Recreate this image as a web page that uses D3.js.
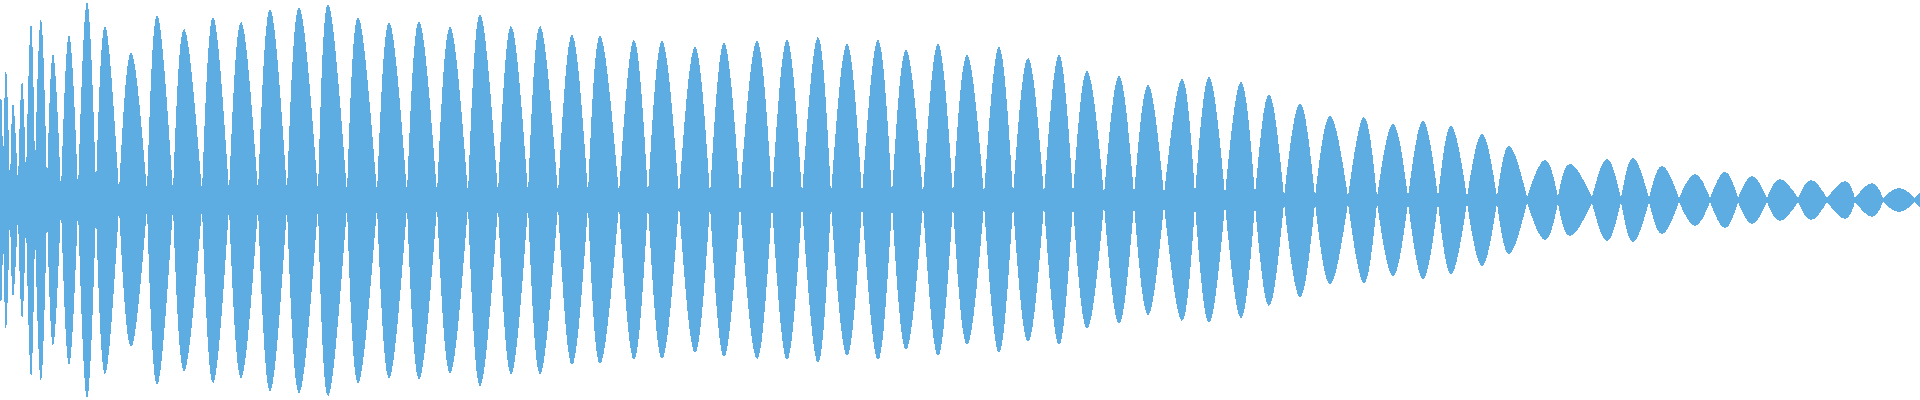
<!DOCTYPE html>
<html>
<head>
<meta charset="utf-8">
<script src="https://cdn.jsdelivr.net/npm/d3@7"></script>
<style>
  body { margin: 0; background: #fff; }
  svg { display: block; }
</style>
</head>
<body>
<svg id="wave"></svg>
<script>
// zero-crossing positions (sample index, 1 unit per column) and the envelope level there
var nodeTimes = [-4, 3, 10, 18, 26, 35, 47, 61, 78, 96, 119, 147, 173, 202, 229, 258, 287,
  318, 347, 377, 407, 437, 468, 498, 528, 558, 588, 619,
  648, 679, 710, 740, 772, 802, 831, 862, 892, 923, 953,
  984, 1013, 1044, 1073, 1104, 1134, 1164, 1195, 1225, 1255,
  1284, 1315, 1348, 1377, 1408, 1438, 1467, 1497, 1527, 1558, 1592,
  1621, 1649, 1679, 1710, 1738, 1767, 1798, 1827, 1855, 1883, 1915, 1940];
var nodeLevels = [0.10, 0.12, 0.05, 0.07, 0.10, 0.15, 0.065, 0.04, 0.045, 0.065, 0.04, 0.04, 0.04, 0.04, 0.04, 0.04, 0.04,
  0.035, 0.035, 0.035, 0.035, 0.03, 0.03, 0.03, 0.03, 0.03, 0.03, 0.03,
  0.025, 0.025, 0.025, 0.025, 0.025, 0.025, 0.025, 0.025, 0.025, 0.025, 0.025,
  0.025, 0.025, 0.025, 0.025, 0.025, 0.025, 0.025, 0.025, 0.025, 0.025,
  0.015, 0.015, 0.015, 0.015, 0.015, 0.015, 0.015, 0.015, 0.015, 0.015, 0.015,
  0.01, 0.01, 0.01, 0.01, 0.01, 0.01, 0.01, 0.01, 0.01, 0.01, 0.01, 0.01];

// peak of each lobe between two zero crossings
var peakTimes = [1, 6, 13, 22, 31, 41, 53, 69, 87, 105, 131, 157, 184, 213, 241, 270, 299,
  328, 358, 389, 419, 450, 480, 511, 540, 572, 600, 634,
  662, 695, 724, 757, 787, 818, 847, 878, 906, 938,
  967, 999, 1028, 1059, 1087, 1119, 1148, 1182, 1209, 1241, 1269,
  1300, 1330, 1364, 1393, 1423, 1451, 1482, 1509, 1545, 1570,
  1607, 1633, 1662, 1695, 1725, 1752, 1780, 1811, 1845, 1872, 1899, 1928];
var peakLevels = [0.515, 0.65, 0.485, 0.595, 0.885, 0.905, 0.73, 0.825, 0.99, 0.87, 0.735, 0.925, 0.855, 0.915, 0.89, 0.955, 0.965,
  0.98, 0.915, 0.89, 0.895, 0.865, 0.93, 0.87, 0.87, 0.825, 0.82, 0.80,
  0.795, 0.765, 0.785, 0.795, 0.80, 0.815, 0.78, 0.80, 0.75, 0.78,
  0.725, 0.765, 0.71, 0.725, 0.645, 0.62, 0.575, 0.605, 0.615, 0.59, 0.53,
  0.485, 0.42, 0.415, 0.38, 0.395, 0.37, 0.33, 0.27, 0.20, 0.18,
  0.205, 0.21, 0.17, 0.13, 0.14, 0.12, 0.105, 0.10, 0.095, 0.085, 0.06, 0.06];

var width = 1920, height = 400;
var color = "#5dade2";

var svg = d3.select("#wave")
  .attr("width", width)
  .attr("height", height);

var x = d3.scaleLinear().domain([0, 1920]).range([0, width]);
var y = d3.scaleLinear().domain([-1, 1]).range([height, 0]);

var lobes = peakTimes.map(function(t, i) {
  return [
    { t: nodeTimes[i], a: nodeLevels[i] },
    { t: t, a: peakLevels[i] },
    { t: nodeTimes[i + 1], a: nodeLevels[i + 1] }
  ];
});

var area = d3.area()
  .x(function(d) { return x(d.t); })
  .y0(function(d) { return y(-d.a); })
  .y1(function(d) { return y(d.a); })
  .curve(d3.curveNatural);

svg.append("g")
  .selectAll("path")
  .data(lobes)
  .enter()
  .append("path")
  .attr("d", area)
  .attr("fill", color)
  .attr("shape-rendering", "crispEdges");
</script>
</body>
</html>
